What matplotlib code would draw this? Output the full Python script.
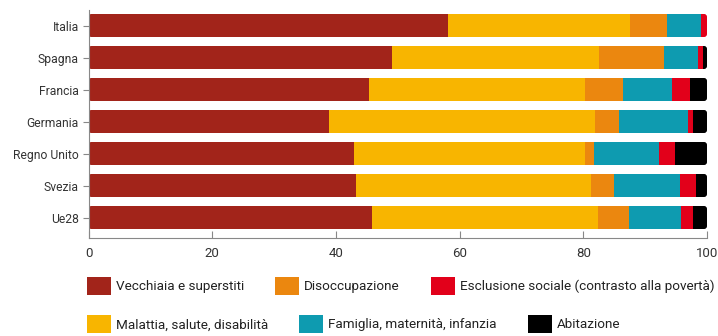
import numpy as np
import matplotlib
matplotlib.use("Agg")
import matplotlib.pyplot as plt
from matplotlib.patches import FancyBboxPatch
from matplotlib.legend_handler import HandlerPatch

countries = ["Italia", "Spagna", "Francia", "Germania", "Regno Unito", "Svezia", "Ue28"]

# quote percentuali per funzione (somma ~100)
vecchiaia = [58.2, 49.0, 45.4, 38.9, 43.0, 43.2, 45.8]
malattia = [29.4, 33.5, 34.9, 43.0, 37.2, 38.1, 36.5]
disoccupazione = [5.9, 10.6, 6.1, 3.9, 1.6, 3.7, 5.1]
famiglia = [5.5, 5.4, 7.9, 11.1, 10.5, 10.6, 8.4]
esclusione = [1.0, 0.9, 2.9, 0.8, 2.5, 2.6, 2.0]
abitazione = [0.0, 0.6, 2.8, 2.3, 5.2, 1.8, 2.2]

labels = ["Vecchiaia e superstiti", "Malattia, salute, disabilità", "Disoccupazione",
          "Famiglia, maternità, infanzia", "Esclusione sociale (contrasto alla povertà)", "Abitazione"]
colors = ["#a2241a", "#f8b500", "#eb870f", "#0e9bb0", "#e2001a", "#000000"]

series = [vecchiaia, malattia, disoccupazione, famiglia, esclusione, abitazione]
BAR_H = 0.72

fig = plt.figure(figsize=(7.18, 3.36), dpi=100)
ax = fig.add_axes([0.1233, 0.2902, 0.8614, 0.680])

y = np.arange(len(countries))
left = np.zeros(len(countries))
handles = []
for vals, lab, col in zip(series, labels, colors):
    b = ax.barh(y, vals, left=left, height=BAR_H, color=col, label=lab, linewidth=0)
    handles.append(b)
    left += np.array(vals)

ax.set_xlim(0, 100)
ax.set_ylim(6.656, -0.484)

# angoli arrotondati: ogni riga ritagliata da un box arrotondato
fig.canvas.draw()
bb = ax.get_window_extent()
px_x = bb.width / 100.0
px_y = bb.height / 7.14
for i, tot in enumerate(left):
    clip = FancyBboxPatch((0, y[i] - BAR_H / 2), tot, BAR_H,
                          boxstyle="round,pad=0,rounding_size=%f" % (3.0 / px_x),
                          mutation_aspect=px_x / px_y, transform=ax.transData)
    for b in handles:
        b.patches[i].set_clip_path(clip)

ax.set_yticks(y)
ax.set_yticklabels(countries, fontfamily="Roboto", fontsize=8.7, color="#333333")
ax.set_xticks([0, 20, 40, 60, 80, 100])
ax.tick_params(axis="x", direction="in", length=5, color="#888888", pad=6,
               labelsize=9.5, labelcolor="#333333")
ax.tick_params(axis="y", direction="out", length=4, color="#888888", pad=3)
for lbl in ax.get_xticklabels():
    lbl.set_fontfamily("Roboto")
for s in ["top", "right"]:
    ax.spines[s].set_visible(False)
for s in ["left", "bottom"]:
    ax.spines[s].set_color("#888888")
    ax.spines[s].set_linewidth(0.8)


def rounded_swatch(legend, orig_handle, xdescent, ydescent, width, height, fontsize):
    return FancyBboxPatch((-xdescent, -ydescent), width, height,
                          boxstyle="round,pad=0,rounding_size=3")


row1 = [handles[0], handles[2], handles[4]]
row2 = [handles[1], handles[3], handles[5]]
for row, yy in [(row1, 1 - 286 / 336), (row2, 1 - 324 / 336)]:
    leg = fig.legend(row, [h.get_label() for h in row], ncol=3, loc="center left",
                     bbox_to_anchor=(87 / 718, yy), frameon=False, borderpad=0,
                     borderaxespad=0, handlelength=1.78, handleheight=1.62,
                     handletextpad=0.37, columnspacing=2.3,
                     handler_map={type(row[0].patches[0]): HandlerPatch(patch_func=rounded_swatch)},
                     prop={"family": "Roboto", "size": 9.7})
    for t in leg.get_texts():
        t.set_color("#222222")

fig.savefig("out.png", dpi=100)
